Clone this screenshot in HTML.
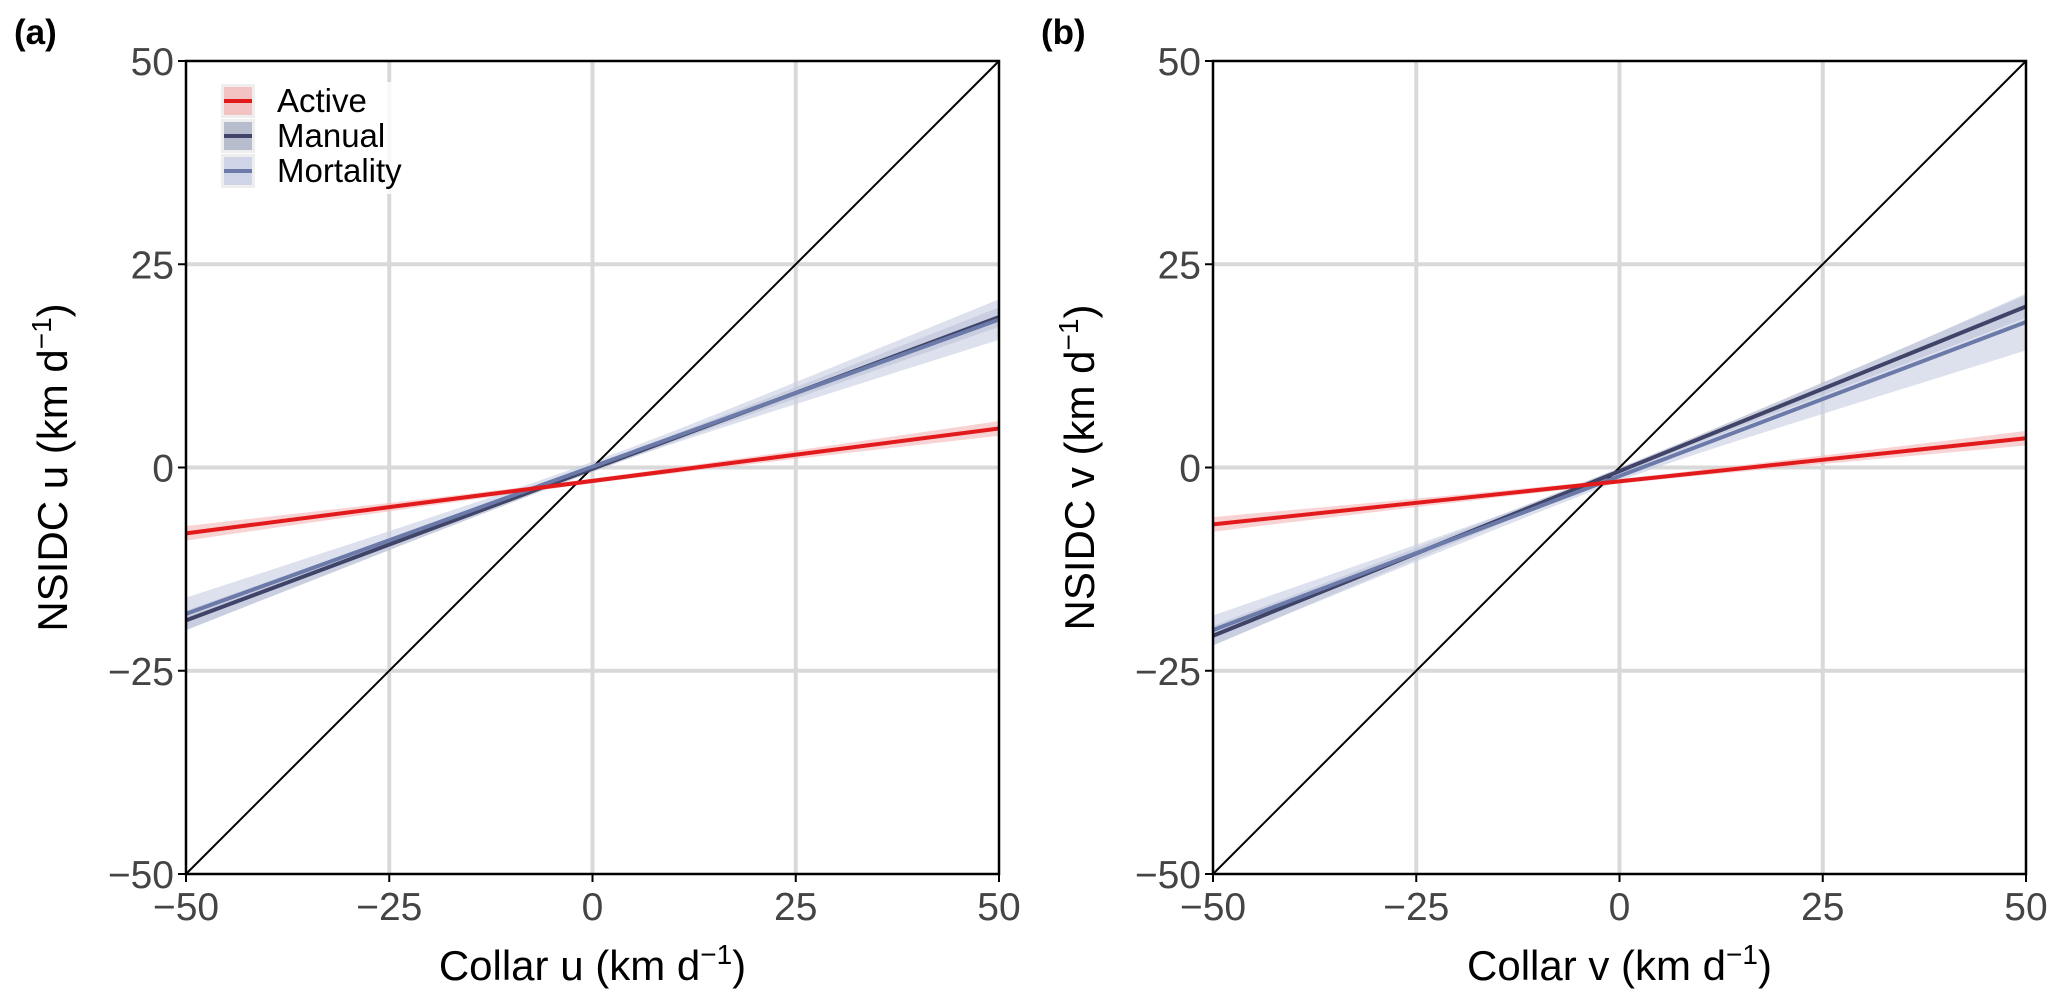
<!DOCTYPE html>
<html><head><meta charset="utf-8"><style>
html,body{margin:0;padding:0;background:#fff;}
svg{display:block;font-family:"Liberation Sans",Arial,sans-serif;}
</style></head><body>
<svg id="chart" width="2067" height="1001" viewBox="0 0 2067 1001" xmlns="http://www.w3.org/2000/svg"></svg>
<script>
const ticks=[-50,-25,0,25,50];
const tickLabels=["\u221250","\u221225","0","25","50"];
const seriesNames=["Active","Manual","Mortality"];
const colors=["#e31a1c","#3f4468","#6b7aa8"];
const bandColors=["#f4b6b8","#aab0c4","#c7cde3"];
// endpoints at x=-50 and x=50
const aActive=[-8.1,4.8], aManual=[-18.8,18.5], aMortality=[-18.0,18.2];
// band half-widths at x=-50, x=0, x=50
const aActiveBand=[0.9,0.3,0.9], aManualBand=[1.2,0.4,1.2], aMortalityBand=[2.0,0.6,2.5];
const bActive=[-7.0,3.6], bManual=[-20.7,19.8], bMortality=[-20.0,17.9];
const bActiveBand=[0.9,0.3,0.9], bManualBand=[1.2,0.4,1.4], bMortalityBand=[1.8,0.6,3.5];
const panels=[
 {id:"a",left:186,xlab:"Collar u",ylab:"NSIDC u",series:[aActive,aManual,aMortality],bands:[aActiveBand,aManualBand,aMortalityBand]},
 {id:"b",left:1213,xlab:"Collar v",ylab:"NSIDC v",series:[bActive,bManual,bMortality],bands:[bActiveBand,bManualBand,bMortalityBand]}
];
const NS="http://www.w3.org/2000/svg";
const svg=document.getElementById('chart');
const TOP=61,BOT=874,W=813;
function mk(tag,attrs,parent,text){const e=document.createElementNS(NS,tag);for(const k in attrs)e.setAttribute(k,attrs[k]);if(text!==undefined)e.textContent=text;(parent||svg).appendChild(e);return e;}
panels.forEach(p=>{
 const g=mk('g',{});
 
 
 const X=v=>p.left+(v+50)/100*W;
 const Y=v=>BOT-(v+50)/100*(BOT-TOP);
 ticks.forEach((t,i)=>{
  if(i>0&&i<4){
   const gx=mk('line',{x1:X(t),x2:X(t),y1:TOP,y2:BOT,stroke:'#d9d9d9','stroke-width':4},g);
   
   
   const gy=mk('line',{x1:p.left,x2:p.left+W,y1:Y(t),y2:Y(t),stroke:'#d9d9d9','stroke-width':4},g);
   
   
  }
 });
 p.series.forEach((s,i)=>{
  const b=p.bands[i];
  const pts=[];
  const N=20;
  const yAt=x=>s[0]+(s[1]-s[0])*(x+50)/100;
  const hw=x=>{const w0=b[1],we=x<0?b[0]:b[2];const f=x/50;return Math.sqrt(w0*w0+(we*we-w0*w0)*f*f);};
  for(let k=0;k<=N;k++){const x=-50+100*k/N;pts.push(`${X(x)},${Y(yAt(x)+hw(x))}`);}
  for(let k=N;k>=0;k--){const x=-50+100*k/N;pts.push(`${X(x)},${Y(yAt(x)-hw(x))}`);}
  const poly=mk('polygon',{points:pts.join(' '),fill:bandColors[i],'fill-opacity':0.6},g);
  
  
 });
 const d=mk('line',{x1:X(-50),y1:Y(-50),x2:X(50),y2:Y(50),stroke:'#000','stroke-width':2},g);
 
 
 [1,2,0].forEach(i=>{
  const s=p.series[i];
  const l=mk('line',{x1:X(-50),y1:Y(s[0]),x2:X(50),y2:Y(s[1]),stroke:colors[i],'stroke-width':4},g);
  
  
 });
 const fr=mk('rect',{x:p.left,y:TOP,width:W,height:BOT-TOP,fill:'none',stroke:'#000','stroke-width':2.5},g);
 
 
 ticks.forEach((t,i)=>{
  mk('line',{x1:X(t),x2:X(t),y1:BOT,y2:BOT+8,stroke:'#000','stroke-width':2},g);
  mk('line',{x1:p.left-8,x2:p.left,y1:Y(t),y2:Y(t),stroke:'#000','stroke-width':2},g);
  const tx=mk('text',{x:X(t),y:BOT+46,'text-anchor':'middle','font-size':39,fill:'#444'},g,tickLabels[i]);
  
  
  const ty=mk('text',{x:p.left-12,y:Y(t)+14,'text-anchor':'end','font-size':39,fill:'#444'},g,tickLabels[i]);
  
  
 });
 const xl=mk('text',{x:p.left+W/2,y:980,'text-anchor':'middle','font-size':42,fill:'#000'},g);
 xl.innerHTML=p.xlab+' (km d<tspan dy="-16" font-size="28">\u22121</tspan><tspan dy="16">)</tspan>';
 
 
 const cy=(TOP+BOT)/2, cx=p.left-119;
 const yl=mk('text',{x:cx,y:cy,'text-anchor':'middle','font-size':42,fill:'#000',transform:`rotate(-90 ${cx} ${cy})`},g);
 yl.innerHTML=p.ylab+' (km d<tspan dy="-16" font-size="28">\u22121</tspan><tspan dy="16">)</tspan>';
 
 
 const pl=mk('text',{x:p.left-172,y:44,'font-size':35,'font-weight':'bold',fill:'#000'},g,'('+p.id+')');
 
 
 if(p.id==='a'){
  const lg=mk('g',{},g);
  
  
  mk('rect',{x:218,y:82,width:220,height:112,fill:'#fff','fill-opacity':0.8},lg);
  seriesNames.forEach((n,i)=>{
   const yy=101+i*35;
   const e=mk('g',{},lg);
   
   
   mk('rect',{x:221,y:yy-17,width:34,height:34,fill:'#eeeeee'},e);
   mk('rect',{x:224,y:yy-14,width:28,height:28,fill:bandColors[i],'fill-opacity':0.8},e);
   mk('line',{x1:224,x2:252,y1:yy,y2:yy,stroke:colors[i],'stroke-width':4},e);
   mk('text',{x:277,y:yy+11,'font-size':33,fill:'#000'},e,n);
  });
 }
});
</script>
</body></html>
